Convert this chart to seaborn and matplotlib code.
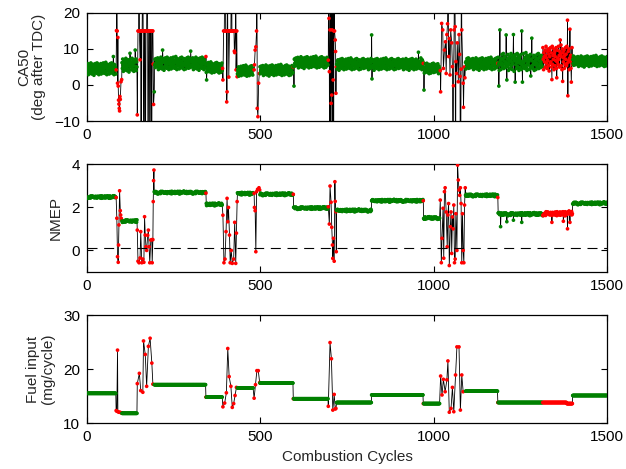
import numpy as np
import pandas as pd
import matplotlib
matplotlib.use("Agg")
import matplotlib.pyplot as plt
import seaborn as sns

# ---------------------------------------------------------------------------
# Steady operating segments, [start, end) in combustion cycles
seg_start = [0, 101, 194, 344, 434, 499, 596, 720, 821, 971, 1092, 1186, 1315, 1384, 1401]
seg_end = [84, 145, 343, 391, 480, 595, 696, 821, 970, 1018, 1185, 1315, 1384, 1401, 1501]
seg_transient = [0, 0, 0, 0, 0, 0, 0, 0, 0, 0, 0, 0, 1, 1, 0]

fuel_level = [15.5, 11.8, 17.1, 14.8, 16.5, 17.4, 14.5, 13.8, 15.2, 13.6, 15.9, 13.8, 13.8, 13.6, 15.1]
nmep_level = [2.47, 1.36, 2.68, 2.13, 2.63, 2.60, 1.96, 1.85, 2.30, 1.50, 2.55, 1.68, 1.70, 1.72, 2.18]
nmep_spread = [0.06, 0.06, 0.06, 0.06, 0.06, 0.06, 0.06, 0.06, 0.06, 0.06, 0.06, 0.07, 0.10, 0.10, 0.06]
ca50_level = [4.5, 5.6, 6.0, 4.8, 3.9, 4.1, 6.3, 5.8, 5.8, 4.6, 5.9, 6.4, 7.5, 7.5, 6.6]
ca50_spread = [1.8, 2.0, 1.9, 1.6, 1.6, 1.6, 1.7, 1.7, 1.7, 1.6, 1.8, 2.6, 3.6, 3.6, 1.6]

# cycle-to-cycle scatter about the segment level (fraction of the spread)
scatter_pattern = [
    0.3, -0.5, 0.8, -0.1, -0.9, 0.4, 0.1, -0.3, 0.6, -0.7, 0.2, 0.9, -0.4, 0.0, -0.8, 0.5, -0.2, 0.7, -0.6, 0.3,
    -1.0, 0.6, 0.1, -0.4, 0.8, -0.3, 0.4, -0.7, 0.0, 0.9, -0.5, 0.2, -0.1, 0.7, -0.9, 0.3, 0.5, -0.6, 0.1, -0.2,
    0.8, -0.8, 0.4, -0.3, 0.6, 0.0, -0.5, 0.9, -0.1, 0.2, -0.7, 0.5, -0.4, 0.3, 1.0, -0.6, 0.1, -0.9, 0.7, -0.2,
    0.4, -0.3, 0.0, 0.6, -0.8, 0.2, -0.5, 0.8, -0.1, 0.3, -0.6, 0.9, -0.4, 0.1, -0.7, 0.5, -0.2, 0.7, -0.9, 0.0,
    0.6, -0.3, 0.2, -0.8, 0.4, -0.1, 0.8, -0.5, 0.3, -0.4, 0.9, -0.7, 0.1, 0.5, -0.2, 0.6, -0.6, 0.0, 0.7, -0.3, 0.2,
]

# Transient (mode-switch) cycles
fuel_tr_cycle = [84, 86, 88, 89, 92, 95, 98, 100,
                 145, 151, 155, 161, 163, 168, 172, 177, 182, 187, 190,
                 343,
                 392, 397, 402, 406, 410, 415, 419, 423, 427, 431,
                 482, 486, 490, 494, 498,
                 595,
                 696, 701, 705, 709, 713, 716, 718,
                 970,
                 1020, 1024, 1028, 1033, 1038, 1041, 1045, 1050, 1054, 1058, 1063, 1067, 1073, 1077, 1081, 1085,
                 1185]
fuel_tr_value = [12.3, 12.2, 23.5, 12.1, 12.0, 12.0, 11.9, 11.9,
                 17.3, 19.2, 16.0, 15.7, 25.2, 22.7, 16.8, 24.2, 25.7, 21.1, 17.2,
                 14.8,
                 13.0, 13.7, 15.6, 23.8, 18.6, 16.8, 12.9, 13.6, 15.1, 16.6,
                 14.6, 17.1, 19.7, 19.7, 17.5,
                 14.5,
                 13.1, 24.9, 21.9, 12.4, 15.3, 12.6, 12.7,
                 13.6,
                 18.7, 15.2, 18.1, 15.8, 18.0, 21.5, 12.0, 12.7, 16.6, 12.1, 18.9, 24.1, 24.1, 12.4, 18.9, 15.8,
                 13.8]

nmep_tr_cycle = [84, 86, 88, 90, 91, 92, 94, 96, 97, 99, 100,
                 145, 147, 150, 153, 155, 158, 161, 164, 166, 168, 170, 172, 175, 177, 179, 181, 184, 187, 188, 190,
                 191, 192, 193,
                 343,
                 392, 395, 398, 401, 404, 406, 408, 411, 413, 416, 419, 423, 426, 429, 431, 433,
                 482, 483, 485, 487, 489, 492, 496, 498,
                 595,
                 696, 699, 701, 704, 706, 708, 709, 711, 713, 715, 716, 718, 719,
                 970,
                 1019, 1022, 1024, 1027, 1029, 1031, 1033, 1036, 1039, 1041, 1043, 1045, 1048, 1050, 1052, 1054,
                 1056, 1058, 1060, 1062, 1064, 1067, 1069, 1071, 1073, 1075, 1077, 1079, 1081, 1083, 1085, 1087,
                 1089, 1091,
                 1185]
nmep_tr_value = [2.45, 1.49, -0.29, -0.55, 0.25, 1.18, 2.76, 1.84, 1.64, 1.48, 1.40,
                 0.94, -0.50, -0.57, -0.35, 0.87, -0.57, -0.40, -0.55, 1.56, 0.71, 0.17, 0.00, 0.70, 0.94, 0.17,
                 -0.57, 0.48, 0.50, -0.57, 0.50,
                 2.26, 3.23, 3.72,
                 2.65,
                 1.63, -0.57, -0.40, 0.87, 2.41, 1.33, 1.99, 0.71, -0.57, 0.00, -0.60, -0.40, 1.30, -0.60, 0.80, 2.26,
                 2.64, 1.99, 1.84, -0.06, 2.72, 2.83, 2.90, 2.80,
                 2.60,
                 2.02, 1.22, 2.98, 2.23, 1.07, 0.25, -0.37, 0.56, -0.50, 3.18, 2.27, 1.79, -0.06,
                 2.30,
                 2.33, -0.57, 0.56, 1.95, -0.36, 2.72, 2.90, 1.78, 0.17, 1.64, 2.17, -0.70, 1.10, 1.78, -0.14, 1.55,
                 1.00, 2.10, -0.57, -0.40, 1.70, 0.00, 3.95, 3.26, 2.80, 2.55, 2.90, 2.17, -0.57, 1.70, 0.00, -0.57,
                 2.10, 2.90,
                 2.45]

ca50_tr_cycle = [84, 85, 86, 87, 88, 89, 90, 91, 92, 93, 94, 95, 96, 98, 100,
                 145, 147, 149, 150, 151, 153, 155, 156, 157, 159, 161, 162, 164, 165, 167, 168, 170, 172, 173,
                 175, 176, 178, 180, 181, 183, 185, 186, 188, 190, 191, 192,
                 343,
                 391, 392, 394, 396, 398, 400, 402, 403, 404, 405, 406, 408, 409, 411, 413, 415, 417, 418, 420,
                 422, 424, 425, 426, 428, 429, 430, 432, 433,
                 482, 483, 485, 487, 489, 490, 491, 493, 495, 497,
                 595,
                 696, 697, 698, 699, 700, 701, 702, 703, 704, 705, 706, 707, 708, 709, 710, 711, 712, 713, 714,
                 716, 717, 718, 719,
                 970,
                 1019, 1020, 1023, 1026, 1028, 1031, 1034, 1036, 1038, 1040, 1042, 1043, 1045, 1047, 1049, 1052,
                 1054, 1056, 1057, 1059, 1060, 1062, 1063, 1064, 1066, 1068, 1071, 1073, 1075, 1076, 1077, 1079,
                 1080, 1081, 1085, 1086, 1088, 1090,
                 1185]
ca50_tr_value = [4.2, 15.1, 40.0, 15.0, 0.5, 13.2, -0.3, -4.2, -5.3, -6.5, -7.2, -3.2, -4.0, 0.9, 1.5,
                 -8.3, 15.0, 15.0, 40.0, 15.0, 7.0, 15.0, -40.0, 15.0, 15.0, 40.0, 15.0, -40.0, 15.0, 15.0,
                 -40.0, 15.0, 15.0, 40.0, 15.0, -40.0, 15.0, 15.0, -40.0, 15.0, 15.0, -40.0, 15.0, 15.0, 5.8, -5.4,
                 7.9,
                 4.6, 1.4, 15.0, 15.0, 40.0, 15.0, 15.0, -4.7, -1.9, 40.0, 15.0, 15.0, 2.2, 15.0, 15.0, 15.0,
                 40.0, 15.0, 15.0, 15.0, 15.0, 9.4, 9.0, 15.0, 40.0, 4.2, 15.0, 2.3,
                 4.2, 5.6, 9.7, 10.6, 15.0, 40.0, -6.5, -8.8, 0.5, 3.2,
                 5.0,
                 6.9, 40.0, 18.5, 3.7, -40.0, 15.3, 40.0, -40.0, -5.1, 40.0, -2.8, 15.3, -40.0, 40.0, 1.4, -40.0,
                 15.0, 40.0, 15.0, 12.5, 9.3, -2.3, 5.0,
                 6.0,
                 4.0, -1.9, 17.1, 15.3, 4.6, 9.7, 12.0, 3.2, 14.0, 17.0, 40.0, 7.9, 12.9, 2.8, 15.3, 11.7,
                 5.1, -40.0, -0.2, 15.3, 40.0, 16.2, -40.0, 6.5, 3.2, 11.7, 0.9, 14.0, 8.5, 2.4, -40.0, 4.4,
                 40.0, 15.3, 0.5, -6.2, 5.0, 2.0,
                 6.0]

# Isolated outlying cycles inside the segments
ca50_out_cycle = [76, 124, 139, 194, 218, 299, 345, 597, 821, 822, 956, 972, 1188, 1191, 1209, 1211,
                  1230, 1235, 1254, 1256, 1280, 1283, 1341, 1355, 1365, 1372, 1386, 1387, 1393, 1397]
ca50_out_value = [7.9, 8.8, 9.7, -1.9, 9.7, 9.4, 1.4, -0.3, 13.9, 1.7, 9.1, -1.4, -0.3, 15.3, 13.9, 1.4,
                  14.0, 0.8, 15.0, 0.8, 2.5, 13.0, 1.5, 2.0, 12.5, 1.0, 18.0, -3.0, 15.5, 0.8]
nmep_out_cycle = [1193, 1211, 1230, 1254, 1341, 1374, 1386, 1393]
nmep_out_value = [1.10, 1.33, 1.40, 1.30, 1.30, 1.35, 1.00, 1.30]

panel_ylabels = ["CA50\n(deg after TDC)", "NMEP", "Fuel input\n(mg/cycle)"]
panel_ylim = [(-10, 20), (-1, 4), (10, 30)]
panel_yticks = [[-10, 0, 10, 20], [0, 2, 4], [10, 20, 30]]
x_ticks = [0, 500, 1000, 1500]
x_label = "Combustion Cycles"
nmep_threshold = 0.1


def build_series(level, spread, stride, offset, out_cycle, out_value, tr_cycle, tr_value):
    pts = {}
    n = len(scatter_pattern)
    for s, e, lv, sp, tr in zip(seg_start, seg_end, level, spread, seg_transient, strict=True):
        for c in range(s, e):
            pts[c] = (lv + sp * scatter_pattern[(c * stride + offset) % n],
                      "transient" if tr else "steady")
    for c, v in zip(out_cycle, out_value, strict=True):
        pts[c] = (v, pts.get(c, (v, "steady"))[1])
    for c, v in zip(tr_cycle, tr_value, strict=True):
        pts[c] = (v, "transient")
    cyc = sorted(pts)
    return pd.DataFrame({"cycle": cyc,
                         "value": [pts[c][0] for c in cyc],
                         "state": [pts[c][1] for c in cyc]})


zero = [0.0] * len(seg_start)
series = [
    build_series(ca50_level, ca50_spread, 1, 0, ca50_out_cycle, ca50_out_value, ca50_tr_cycle, ca50_tr_value),
    build_series(nmep_level, nmep_spread, 7, 13, nmep_out_cycle, nmep_out_value, nmep_tr_cycle, nmep_tr_value),
    build_series(fuel_level, zero, 1, 0, [], [], fuel_tr_cycle, fuel_tr_value),
]

sns.set_style("ticks")
plt.rcParams["font.family"] = ["Liberation Sans", "DejaVu Sans"]

fig = plt.figure(figsize=(6.26, 4.69), dpi=100)
left, width, height = 0.139, 0.8307, 0.2303
bottoms = [0.742, 0.420, 0.098]
palette = {"steady": "#008000", "transient": "#ff0000"}

for i, df in enumerate(series):
    ax = fig.add_axes([left, bottoms[i], width, height])
    sns.lineplot(data=df, x="cycle", y="value", ax=ax, color="black", linewidth=0.6,
                 sort=False, estimator=None, errorbar=None)
    sns.scatterplot(data=df, x="cycle", y="value", hue="state", palette=palette, ax=ax,
                    s=7, linewidth=0, legend=False, zorder=3)
    if i == 1:
        ax.axhline(nmep_threshold, color="black", linewidth=0.8, linestyle=(0, (9, 6)), zorder=4)
    ax.set_xlim(0, 1500)
    ax.set_ylim(*panel_ylim[i])
    ax.set_xticks(x_ticks)
    ax.set_yticks(panel_yticks[i])
    ax.set_xlabel(x_label if i == 2 else "", fontsize=11)
    ax.set_ylabel(panel_ylabels[i], fontsize=11, linespacing=1.1, labelpad=6)
    ax.tick_params(direction="in", top=True, right=True, length=4, width=0.8,
                   labelsize=11, colors="black", pad=5)
    for sp in ax.spines.values():
        sp.set_visible(True)
        sp.set_linewidth(0.9)
        sp.set_color("black")

fig.savefig("out.png", dpi=100)
